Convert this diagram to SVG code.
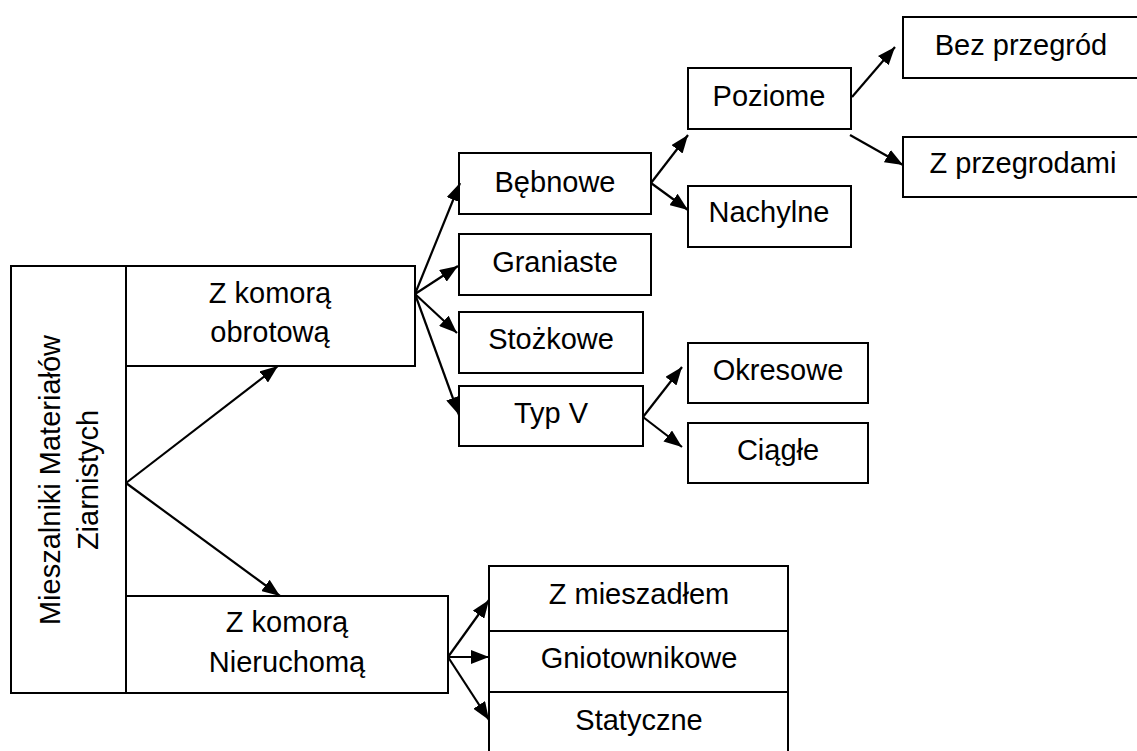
<svg xmlns="http://www.w3.org/2000/svg" width="1137" height="751" viewBox="0 0 1137 751">
<defs>
<style>
.box{fill:#fff;stroke:#000;stroke-width:2}
.t{font-family:"Liberation Sans",Arial,sans-serif;font-size:29px;fill:#000;text-anchor:middle}
.c{stroke:#000;stroke-width:2.2;fill:none;marker-end:url(#ah)}
</style>
<marker id="ah" markerUnits="userSpaceOnUse" markerWidth="18" markerHeight="14" refX="18" refY="7" orient="auto">
<path d="M0,0 L18,7 L0,14 z" fill="#000"/>
</marker>
</defs>
<rect width="1137" height="751" fill="#fff"/>

<g id="root">
<rect class="box" x="11" y="266" width="115" height="427"/>
<text class="t" transform="translate(60,480) rotate(-90)" x="0" y="0">Mieszalniki Materiałów</text>
<text class="t" transform="translate(98,480) rotate(-90)" x="0" y="0">Ziarnistych</text>
</g>
<g id="obrotowa">
<rect class="box" x="126" y="266" width="289" height="100"/>
<text class="t" x="270" y="303">Z komorą</text>
<text class="t" x="270" y="342">obrotową</text>
</g>
<g id="nieruchoma">
<rect class="box" x="126" y="596" width="322" height="97"/>
<text class="t" x="287" y="632">Z komorą</text>
<text class="t" x="287" y="672">Nieruchomą</text>
</g>
<g id="bebnowe">
<rect class="box" x="459" y="153" width="192" height="61"/>
<text class="t" x="555" y="192">Bębnowe</text>
</g>
<g id="graniaste">
<rect class="box" x="459" y="234" width="192" height="61"/>
<text class="t" x="555" y="272">Graniaste</text>
</g>
<g id="stozkowe">
<rect class="box" x="459" y="312" width="184" height="61"/>
<text class="t" x="551" y="349">Stożkowe</text>
</g>
<g id="typv">
<rect class="box" x="459" y="386" width="184" height="60"/>
<text class="t" x="551" y="423">Typ V</text>
</g>
<g id="poziome">
<rect class="box" x="688" y="68" width="163" height="61"/>
<text class="t" x="769" y="106">Poziome</text>
</g>
<g id="nachylne">
<rect class="box" x="688" y="186" width="163" height="61"/>
<text class="t" x="769" y="222">Nachylne</text>
</g>
<g id="bez">
<rect class="box" x="903" y="17" width="240" height="61"/>
<text class="t" x="1021" y="55">Bez przegród</text>
</g>
<g id="zprzegrodami">
<rect class="box" x="903" y="137" width="240" height="60"/>
<text class="t" x="1023" y="173">Z przegrodami</text>
</g>
<g id="okresowe">
<rect class="box" x="688" y="343" width="180" height="60"/>
<text class="t" x="778" y="380">Okresowe</text>
</g>
<g id="ciagle">
<rect class="box" x="688" y="423" width="180" height="60"/>
<text class="t" x="778" y="460">Ciągłe</text>
</g>
<g id="mieszadlem">
<rect class="box" x="489" y="566" width="299" height="65"/>
<text class="t" x="639" y="604">Z mieszadłem</text>
</g>
<g id="gniotownikowe">
<rect class="box" x="489" y="631" width="299" height="61"/>
<text class="t" x="639" y="668">Gniotownikowe</text>
</g>
<g id="statyczne">
<rect class="box" x="489" y="692" width="299" height="70"/>
<text class="t" x="639" y="730">Statyczne</text>
</g>

<g id="connectors">
<line class="c" x1="126" y1="483" x2="278" y2="366"/>
<line class="c" x1="126" y1="483" x2="280" y2="596"/>
<line class="c" x1="415" y1="294" x2="460" y2="183"/>
<line class="c" x1="415" y1="294" x2="458" y2="266"/>
<line class="c" x1="415" y1="294" x2="457" y2="333"/>
<line class="c" x1="415" y1="294" x2="459" y2="415"/>
<line class="c" x1="651" y1="183" x2="688" y2="135"/>
<line class="c" x1="651" y1="183" x2="688" y2="210"/>
<line class="c" x1="852" y1="97" x2="895" y2="47"/>
<line class="c" x1="850" y1="135" x2="903" y2="165"/>
<line class="c" x1="643" y1="417" x2="682" y2="367"/>
<line class="c" x1="643" y1="417" x2="682" y2="447"/>
<line class="c" x1="448" y1="657" x2="489" y2="600"/>
<line class="c" x1="448" y1="657" x2="489" y2="657"/>
<line class="c" x1="448" y1="657" x2="489" y2="720"/>
</g>
</svg>
